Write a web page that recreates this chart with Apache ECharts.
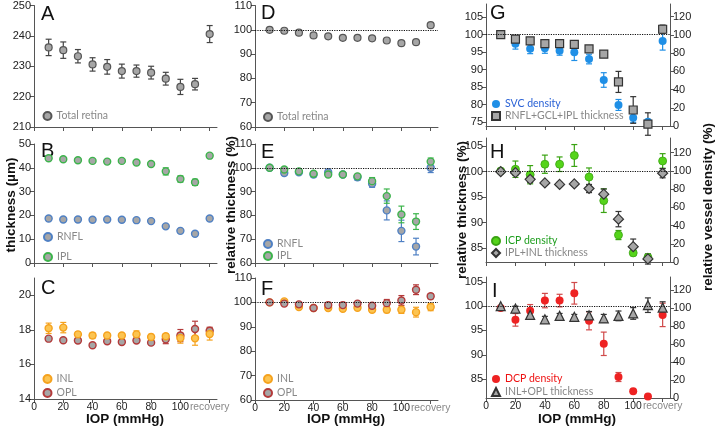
<!DOCTYPE html>
<html><head><meta charset="utf-8">
<script src="https://cdn.jsdelivr.net/npm/echarts@6/dist/echarts.min.js"></script>
<style>html,body{margin:0;padding:0;background:#fff}#c{width:716px;height:433px}</style>
</head><body><div id="c"></div><script>
// ---------- data ----------
const iop = [10,20,30,40,50,60,70,80,90,100,110,120];   // 120 = recovery
const xTickValues = [0,20,40,60,80,100,120];
const xTickLabels = ['0','20','40','60','80','100','recovery'];

// A: total retina thickness (µm)
const totalAbs = [236.2,235.3,233.3,230.6,229.8,228.4,228.4,227.9,225.9,223.2,224.1,240.6];
const totalAbsErr = [2.7,2.7,2.2,2.2,2.4,2.3,2.0,2.1,2.1,2.5,1.9,2.8];
// B: RNFL / IPL (µm)
const rnflAbs = [18.7,18.3,18.3,18.2,18.3,18.2,18.0,17.6,15.4,13.5,12.3,18.7];
const rnflAbsErr = [0.4,0.3,0.3,0.3,0.3,0.3,0.3,0.4,0.5,0.5,0.5,0.4];
const iplAbs = [44.0,43.6,43.2,42.9,42.6,42.9,42.2,41.6,38.5,35.3,33.9,45.1];
const iplAbsErr = [0.4,0.4,0.4,0.4,0.4,0.4,0.5,0.8,1.5,1.3,1.3,0.7];
// C: INL / OPL (µm)
const inlAbs = [18.09,18.13,17.74,17.67,17.67,17.67,17.74,17.59,17.63,17.53,17.51,17.76];
const inlAbsErr = [0.3,0.3,0.15,0.15,0.12,0.12,0.2,0.15,0.15,0.3,0.4,0.35];
const oplAbs = [17.49,17.40,17.38,17.11,17.34,17.30,17.38,17.26,17.45,17.67,18.05,17.95];
const oplAbsErr = [0.1,0.1,0.1,0.1,0.1,0.1,0.1,0.1,0.25,0.35,0.45,0.2];
// D: total retina relative (%)
const totalRel = [100,99.6,98.8,97.7,97.3,96.7,96.7,96.5,95.6,94.5,94.9,101.9];
// E: RNFL / IPL relative (%)
const rnflRel = [100,97.8,98.1,97.2,98.1,97.2,96.0,93.3,82.1,73.5,66.9,100];
const rnflRelErr = [0,1,0.8,1,0.8,0.8,1.2,1.5,4,4.5,3.5,2];
const iplRel = [100,99.3,98.5,97.5,97.2,97.2,96.4,94.4,88.1,80.4,77.4,102.6];
const iplRelErr = [0,0.7,0.7,0.7,0.6,0.6,0.8,1.5,3,3.5,3.3,1.5];
// F: INL / OPL relative (%)
const inlRel = [100,100.4,98.1,97.7,97.7,97.4,97.8,97.0,97.0,97.0,96.0,98.1];
const inlRelErr = [0,0.5,0.5,0.5,0.5,0.5,0.5,1,1.2,1.5,2,1.5];
const oplRel = [100,99.5,99.2,97.7,98.9,98.9,99.5,98.6,99.7,100.8,105.2,102.5];
const oplRelErr = [0,0.4,0.5,0.4,0.6,0.5,0.4,1,1.5,2,2,1];
// G: SVC density (%) / RNFL+GCL+IPL thickness (%)
const svc = [100,90.4,84.9,85.3,82.7,80.9,73.5,50.5,23.1,9.1,4.8,93.3];
const svcErr = [0,6,5.5,5.5,5,9,5.3,8,6,5,2,10];
const gThk = [100,98.7,98.2,97.4,97.4,97.2,95.9,94.4,86.5,78.5,74.5,101.5];
const gThkErr = [0,0.5,0.3,0.3,0.3,0.3,0.7,0.7,3,3.8,3.2,1.2];
// H: ICP density (%) / IPL+INL thickness (%)
const icp = [100,101.9,95.9,107.4,107.4,117,93.3,67.4,29.6,10,5.2,111];
const icpErr = [0,9,10,10,8,12,10,13,5,3,3,8];
const hThk = [100,99.8,98.5,97.8,97.5,97.6,96.7,95.6,90.7,85.3,82.9,99.7];
const hThkErr = [0,0.5,0.6,0.3,0.4,0.3,0.8,1,1.5,1.5,1,0.9];
// I: DCP density (%) / INL+OPL thickness (%)
const dcp = [100,86.8,96.8,108.2,108.2,116.3,85.7,60.2,23.3,7.4,1.8,92.3];
const dcpErr = [0,7,7,8,7,12,10,13,5,0,0,13];
const iThk = [100,99.5,98.2,97.3,98.0,97.8,98.1,97.5,98.0,98.5,100.2,99.7];
const iThkErr = [0,0.5,0.5,0.6,0.5,0.5,0.8,0.8,1,1.2,1.5,1.2];

// ---------- helpers ----------
const AX = '#555';
const TICKFONT = {fontFamily:'Liberation Sans, Arial, sans-serif', fontSize:11, color:'#222'};
const LEGFONT = 'Lato, sans-serif';
const GRAYFILL = '#a6a6a6';

function errRender(color){
  return function(params, api){
    const x = api.value(0), lo = api.value(1), hi = api.value(2);
    const a = api.coord([x, lo]), b = api.coord([x, hi]);
    const hw = 3;
    const st = {stroke: color, lineWidth: 1.2};
    return {type:'group', children:[
      {type:'line', shape:{x1:a[0],y1:a[1],x2:b[0],y2:b[1]}, style:st},
      {type:'line', shape:{x1:a[0]-hw,y1:a[1],x2:a[0]+hw,y2:a[1]}, style:st},
      {type:'line', shape:{x1:b[0]-hw,y1:b[1],x2:b[0]+hw,y2:b[1]}, style:st}
    ]};
  };
}
function errSeries(xi, yi, vals, errs, color){
  const data = [];
  iop.forEach((x,i)=>{ if(errs[i] > 0) data.push([x, vals[i]-errs[i], vals[i]+errs[i]]); });
  return {type:'custom', name:'err'+xi+'_'+yi+color, xAxisIndex:xi, yAxisIndex:yi, data,
    renderItem: errRender(color), encode:{x:0, y:[1,2]}, z:2, silent:true, clip:false};
}
function ptSeries(name, xi, yi, vals, sym, size, fill, border, bw, extra){
  return Object.assign({type:'scatter', name, xAxisIndex:xi, yAxisIndex:yi,
    data: iop.map((x,i)=>[x, vals[i]]), symbol:sym, symbolSize:size,
    itemStyle:{color:fill, borderColor:border, borderWidth:bw, opacity:1}, z:3, silent:true}, extra||{});
}
const refLine = {markLine:{silent:true, symbol:'none', label:{show:false},
  lineStyle:{type:'dotted', color:'#111', width:1.2}, data:[{yAxis:100}]}};

const grids = [
 {left:34, top:5, width:183, height:122},   // A
 {left:34, top:144, width:183, height:119}, // B
 {left:34, top:278, width:183, height:121}, // C
 {left:255, top:5, width:183, height:122},  // D
 {left:255, top:144, width:183, height:119},// E
 {left:255, top:278, width:183, height:122},// F
 {left:486, top:4, width:184, height:122},  // G
 {left:486, top:138, width:184, height:124},// H
 {left:486, top:277, width:184, height:121} // I
];
const xAxes = grids.map((g,i)=>{
  const bottom = (i===2||i===5||i===8);
  return {type:'value', gridIndex:i, min:0, max:125,
    axisLine:{lineStyle:{color:AX, width:1}},
    axisTick:{customValues:xTickValues, length:4, lineStyle:{color:AX}},
    axisLabel:{show:bottom, customValues:xTickValues, margin:3, hideOverlap:false,
      formatter:v=>{ const k = xTickValues.indexOf(v); if(k<0) return ''; return k===6 ? '{g|'+xTickLabels[k]+'}' : xTickLabels[k]; },
      rich:{g:{color:'#888', fontFamily:'Liberation Sans, Arial, sans-serif', fontSize:10.3}},
      fontFamily:'Liberation Sans, Arial, sans-serif', fontSize:10.3, color:'#222'},
    splitLine:{show:false}};
});
function yAx(gi, min, max, ticks, pos){
  return {type:'value', gridIndex:gi, min, max, position:pos||'left',
    axisLine:{show:true, lineStyle:{color:AX, width:1}},
    axisTick:{show:true, customValues:ticks, length:4, lineStyle:{color:AX}},
    axisLabel:{customValues:ticks, margin:3, ...TICKFONT},
    splitLine:{show:false}};
}
const yAxes = [
  yAx(0,210,250,[210,220,230,240,250]),
  yAx(1,0,50,[0,10,20,30,40,50]),
  yAx(2,14,21,[14,16,18,20]),
  yAx(3,60,110,[60,70,80,90,100,110]),
  yAx(4,60,110,[60,70,80,90,100,110]),
  yAx(5,60,110,[60,70,80,90,100,110]),
  yAx(6,73.94,108.7,[75,80,85,90,95,100,105]),
  yAx(6,0,133.9,[0,20,40,60,80,100,120],'right'),
  yAx(7,82.3,106.6,[85,90,95,100,105]),
  yAx(7,0,136.2,[0,20,40,60,80,100,120],'right'),
  yAx(8,81.1,106,[85,90,95,100,105]),
  yAx(8,0,134.4,[0,20,40,60,80,100,120],'right')
];

const C = {
  total:'#555', rnfl:'#4f80c4', ipl:'#3cb44b', inl:'#f5a21e', inlFill:'#fcc451',
  opl:'#b33a3a', svc:'#1f8fe6', icp:'#55d41a', icpB:'#3aa312', dcp:'#ee2222', thk:'#333'
};
const S = 7;

const series = [
  // A
  errSeries(0,0,totalAbs,totalAbsErr,'#444'),
  ptSeries('Total retina',0,0,totalAbs,'circle',S,GRAYFILL,C.total,1.2),
  // B
  errSeries(1,1,rnflAbs,rnflAbsErr,C.rnfl),
  errSeries(1,1,iplAbs,iplAbsErr,C.ipl),
  ptSeries('RNFL',1,1,rnflAbs,'circle',S,GRAYFILL,C.rnfl,1.4),
  ptSeries('IPL',1,1,iplAbs,'circle',S,GRAYFILL,C.ipl,1.4),
  // C
  errSeries(2,2,inlAbs,inlAbsErr,C.inl),
  errSeries(2,2,oplAbs,oplAbsErr,C.opl),
  ptSeries('OPL',2,2,oplAbs,'circle',S,GRAYFILL,C.opl,1.4),
  ptSeries('INL',2,2,inlAbs,'circle',S,C.inlFill,C.inl,1.4),
  // D
  ptSeries('Total retina',3,3,totalRel,'circle',S,GRAYFILL,C.total,1.2,refLine),
  // E
  errSeries(4,4,rnflRel,rnflRelErr,C.rnfl),
  errSeries(4,4,iplRel,iplRelErr,C.ipl),
  ptSeries('RNFL',4,4,rnflRel,'circle',S,GRAYFILL,C.rnfl,1.4,refLine),
  ptSeries('IPL',4,4,iplRel,'circle',S,GRAYFILL,C.ipl,1.4),
  // F
  errSeries(5,5,inlRel,inlRelErr,C.inl),
  errSeries(5,5,oplRel,oplRelErr,C.opl),
  ptSeries('INL',5,5,inlRel,'circle',S,C.inlFill,C.inl,1.4,refLine),
  ptSeries('OPL',5,5,oplRel,'circle',S,GRAYFILL,C.opl,1.4),
  // G
  errSeries(6,7,svc,svcErr,C.svc),
  errSeries(6,6,gThk,gThkErr,C.thk),
  ptSeries('SVC density',6,7,svc,'circle',8,C.svc,C.svc,0),
  ptSeries('RNFL+GCL+IPL thickness',6,6,gThk,'rect',8,GRAYFILL,C.thk,1.2,refLine),
  // H
  errSeries(7,9,icp,icpErr,C.icpB),
  errSeries(7,8,hThk,hThkErr,C.thk),
  ptSeries('ICP density',7,9,icp,'circle',8,C.icp,C.icpB,0.8),
  ptSeries('IPL+INL thickness',7,8,hThk,'diamond',10,GRAYFILL,C.thk,1.2,refLine),
  // I
  errSeries(8,11,dcp,dcpErr,'#d04a4a'),
  errSeries(8,10,iThk,iThkErr,C.thk),
  ptSeries('DCP density',8,11,dcp,'circle',8,C.dcp,C.dcp,0),
  ptSeries('INL+OPL thickness',8,10,iThk,'triangle',9,GRAYFILL,C.thk,1.2,refLine)
];

function leg(left, top, gap, items){
  return {left, top, orient:'vertical', itemGap:gap, padding:0, itemWidth:8, itemHeight:8,
    selectedMode:false, textStyle:{fontFamily:LEGFONT, fontSize:10.5, color:'#888', lineHeight:12},
    data: items.map(([n,c])=>({name:n, textStyle:{color:c}}))};
}
const legends = [
  leg(42.5, 110, 0, [['Total retina','#888']]),
  leg(43, 231, 8, [['RNFL','#888'],['IPL','#888']]),
  leg(42.5, 373, 2, [['INL','#888'],['OPL','#888']]),
  leg(263, 111, 0, [['Total retina','#888']]),
  leg(263, 238, 0, [['RNFL','#888'],['IPL','#888']]),
  leg(263, 373, 2, [['INL','#888'],['OPL','#888']]),
  leg(491, 98, 0, [['SVC density','#2a62d6'],['RNFL+GCL+IPL thickness','#888']]),
  leg(491, 235, 0, [['ICP density','#1e9e1e'],['IPL+INL thickness','#888']]),
  leg(491, 373, 1, [['DCP density','#ee1111'],['INL+OPL thickness','#888']])
];

function letter(t, x, y){
  return {type:'text', left:x, top:y, style:{text:t, font:'20px "Liberation Sans", Arial, sans-serif', fill:'#111'}};
}
const TFONT = 'bold 13.5px "Liberation Sans", Arial, sans-serif';
function vtitle(t, x, cy){
  return {type:'text', x:x, y:cy, rotation:Math.PI/2,
    style:{text:t, font:TFONT, fill:'#111', align:'center', verticalAlign:'middle'}};
}
function htitle(t, cx, cy){
  return {type:'text', x:cx, y:cy,
    style:{text:t, font:TFONT, fill:'#111', align:'center', verticalAlign:'middle'}};
}
const graphics = [
  letter('A',41,4), letter('B',41,141), letter('C',41,278),
  letter('D',261,3), letter('E',261,142), letter('F',261,279),
  letter('G',490,3), letter('H',490,142), letter('I',492,281),
  vtitle('thickness (µm)',11,205),
  vtitle('relative thickness (%)',231,205),
  vtitle('relative thickness (%)',462,210),
  vtitle('relative vessel density (%)',708,207),
  htitle('IOP (mmHg)',125,419), htitle('IOP (mmHg)',346,419), htitle('IOP (mmHg)',577,419)
];

const chart = echarts.init(document.getElementById('c'), null, {renderer:'canvas'});
chart.setOption({
  animation:false, backgroundColor:'#fff',
  grid: grids, xAxis: xAxes, yAxis: yAxes, series, legend: legends, graphic: graphics
});
</script></body></html>
